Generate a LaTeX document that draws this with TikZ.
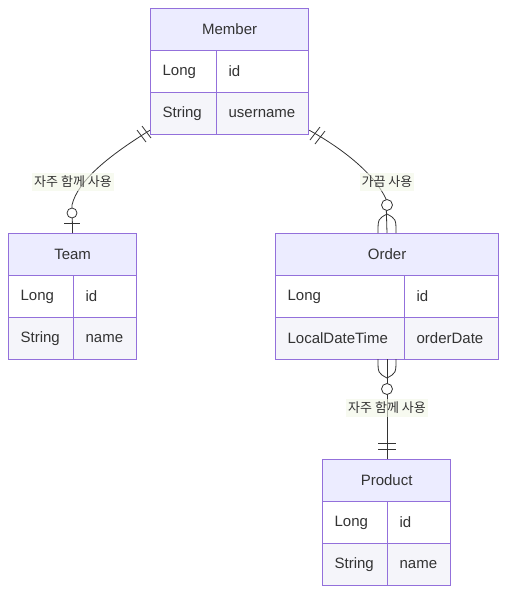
\documentclass[tikz,border=0pt]{standalone}
\usepackage{fontspec}
\usetikzlibrary{calc}
\setmainfont{Liberation Sans}
\newfontfamily\krfont{Noto Sans CJK KR}
\definecolor{erborder}{HTML}{9370DB}
\definecolor{erhead}{HTML}{ECECFF}
\definecolor{erodd}{HTML}{FFFFFF}
\definecolor{ereven}{HTML}{F5F5FA}
\definecolor{ertext}{HTML}{333333}
\definecolor{erline}{HTML}{333333}
\definecolor{erlabel}{HTML}{F2F6E6}
\tikzset{
  hdr/.style={draw=erborder, fill=erhead, line width=1.2pt, anchor=north west,
    minimum height=42pt, inner sep=0pt, text=ertext, font=\fontsize{15}{18}\selectfont},
  cell/.style={draw=erborder, line width=1.2pt, anchor=north west, minimum height=42pt,
    inner xsep=12pt, inner ysep=0pt, align=left, text=ertext,
    font=\fontsize{15}{18}\selectfont},
  oddrow/.style={cell, fill=erodd},
  evenrow/.style={cell, fill=ereven},
  rel/.style={draw=erline, line width=0.8pt},
  relmark/.style={draw=erline, line width=0.8pt},
  ringmark/.style={draw=erline, fill=white, line width=0.8pt},
  rellabel/.style={fill=erlabel, fill opacity=0.6, text opacity=1, text=ertext,
    inner xsep=2pt, inner ysep=3pt, font=\krfont\fontsize{13}{16}\selectfont}
}
\begin{document}
\begin{tikzpicture}[x=1pt,y=-1pt]
\useasboundingbox (0,0) rectangle (515,603);
% ---------- Member ----------
\node[hdr, minimum width=158pt] (member) at (150,8) {Member};
\node[oddrow, text width=42pt] (m1t) at (150,50) {Long};
\node[oddrow, text width=68pt] (m1n) at (216,50) {id};
\node[evenrow, text width=42pt] (m2t) at (150,92) {String};
\node[evenrow, text width=68pt] (m2n) at (216,92) {username};
% ---------- Team ----------
\node[hdr, minimum width=128pt] (team) at (8,233) {Team};
\node[oddrow, text width=41pt] (t1t) at (8,275) {Long};
\node[oddrow, text width=39pt] (t1n) at (73,275) {id};
\node[evenrow, text width=41pt] (t2t) at (8,317) {String};
\node[evenrow, text width=39pt] (t2n) at (73,317) {name};
% ---------- Order ----------
\node[hdr, minimum width=223pt] (order) at (275,233) {Order};
\node[oddrow, text width=105pt] (o1t) at (275,275) {Long};
\node[oddrow, text width=70pt] (o1n) at (404,275) {id};
\node[evenrow, text width=105pt] (o2t) at (275,317) {LocalDateTime};
\node[evenrow, text width=70pt] (o2n) at (404,317) {orderDate};
% ---------- Product ----------
\node[hdr, minimum width=128pt] (product) at (322,459) {Product};
\node[oddrow, text width=41pt] (p1t) at (322,501) {Long};
\node[oddrow, text width=39pt] (p1n) at (387,501) {id};
\node[evenrow, text width=41pt] (p2t) at (322,543) {String};
\node[evenrow, text width=39pt] (p2n) at (387,543) {name};

% ---------- anchor coordinates ----------
\coordinate (mtS) at ($(m2t.south west)+(0,-5)$);
\coordinate (mtE) at (team.north);
\coordinate (moS) at ($(m2n.south east)+(0,-5)$);
\coordinate (moE) at (387,233);
\coordinate (opS) at (387,359);
\coordinate (opE) at (387,459);

% ---------- Member -> Team ----------
\draw[rel] (mtS) .. controls (110,155) and (78,180) .. (72,205) -- (mtE);
\node[rellabel] (lab1) at (73,182) {자주 함께 사용};
\draw[ringmark] (72,213) circle (5pt);
\draw[relmark] (64,223) -- (80,223);
\draw[relmark] (137,130) -- (146,142);
\draw[relmark] (142,126) -- (151,138);

% ---------- Member -> Order ----------
\draw[rel] (moS) .. controls (345,150) and (375,175) .. (386,199) -- (moE);
\node[rellabel] (lab2) at (387,182) {가끔 사용};
\draw[ringmark] (387,205) circle (5.5pt);
\draw[relmark] (387,214) .. controls (378,219) .. (378,233);
\draw[relmark] (387,214) .. controls (396,219) .. (396,233);
\draw[relmark] (310,140) -- (320,127);
\draw[relmark] (315,144) -- (325,131);

% ---------- Order -> Product ----------
\draw[rel] (opS) -- (opE);
\draw[relmark] (378,359) .. controls (378,373) .. (387,378);
\draw[relmark] (396,359) .. controls (396,373) .. (387,378);
\draw[ringmark] (387,389) circle (5.5pt);
\node[rellabel] (lab3) at (387,408) {자주 함께 사용};
\draw[relmark] (378,443) -- (396,443);
\draw[relmark] (378,449) -- (396,449);
\end{tikzpicture}
\end{document}
